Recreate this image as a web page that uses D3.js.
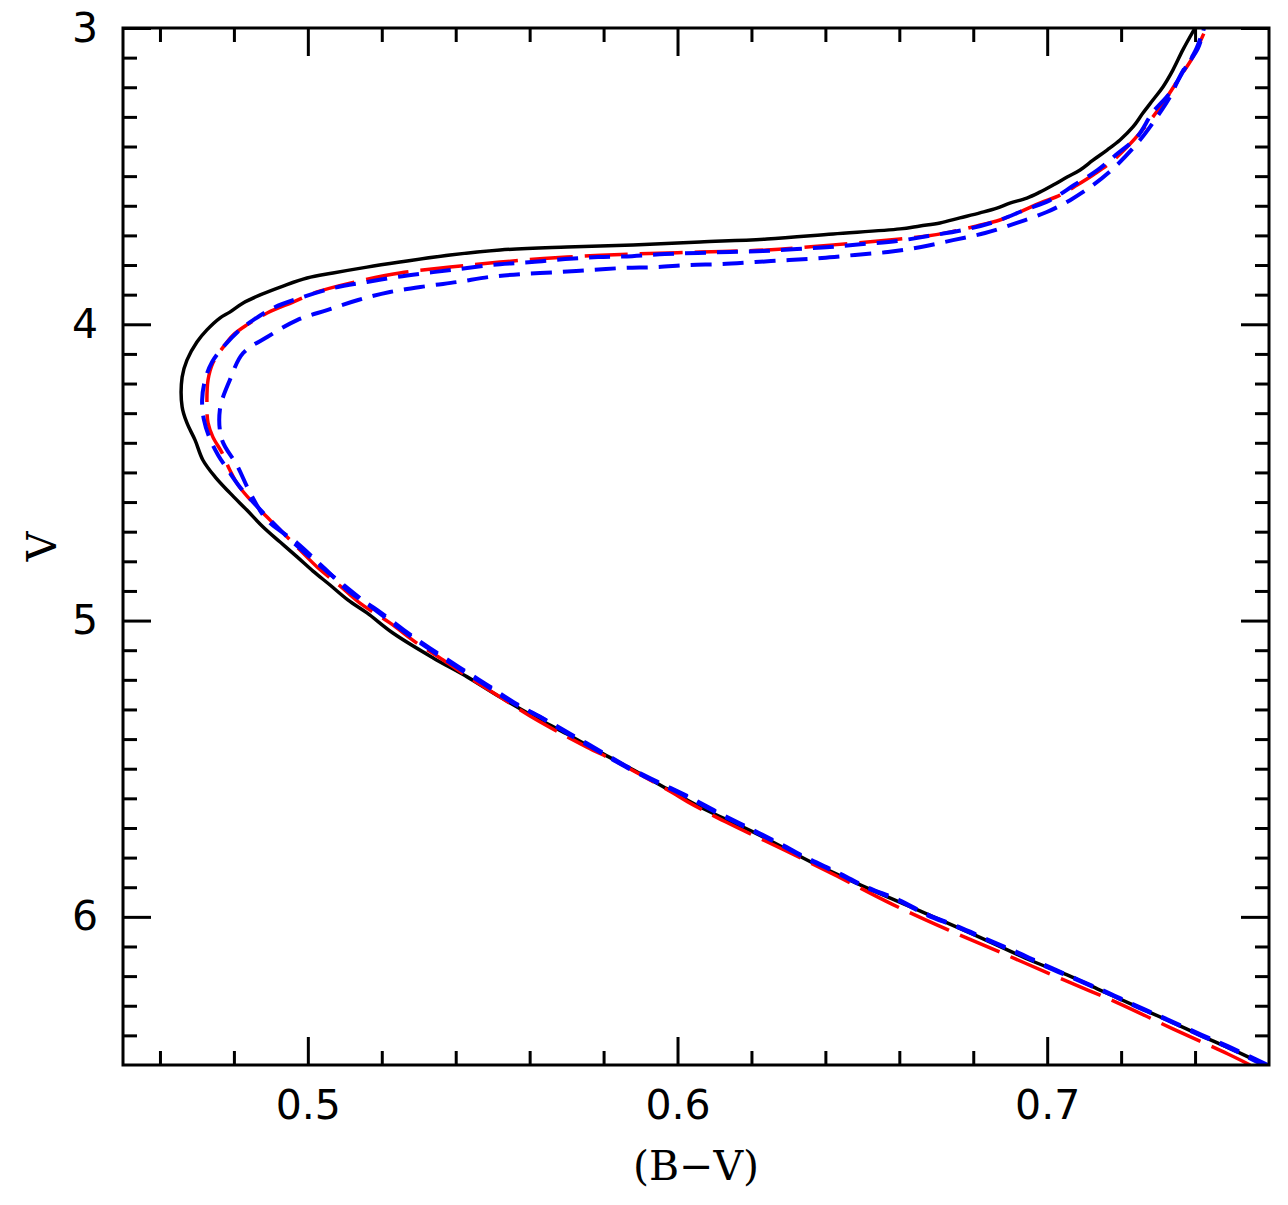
<!DOCTYPE html>
<html>
<head>
<meta charset="utf-8">
<script src="https://cdn.jsdelivr.net/npm/d3@7"></script>
<style>
  body { margin: 0; background: #fff; }
</style>
</head>
<body>
<svg width="1288" height="1205"></svg>
<script>
// isochrones, [B-V, V], bright (top) end first
var blackSolid = [
  [0.7400,3.000],[0.7367,3.074],[0.7340,3.142],[0.7313,3.199],[0.7286,3.243],[0.7259,3.287],
  [0.7232,3.334],[0.7197,3.378],[0.7162,3.412],[0.7124,3.446],[0.7089,3.479],[0.7054,3.503],
  [0.7016,3.530],[0.6980,3.554],[0.6945,3.574],[0.6899,3.591],[0.6864,3.608],[0.6818,3.624],
  [0.6764,3.641],[0.6710,3.658],[0.6656,3.668],[0.6602,3.678],[0.6421,3.695],[0.6242,3.712],
  [0.6061,3.722],[0.5880,3.732],[0.5701,3.739],[0.5520,3.749],[0.5385,3.766],[0.5249,3.790],
  [0.5160,3.807],[0.5068,3.827],[0.4998,3.844],[0.4933,3.871],[0.4871,3.901],[0.4825,3.928],
  [0.4789,3.959],[0.4762,3.979],[0.4727,4.019],[0.4700,4.060],[0.4673,4.121],[0.4660,4.178],
  [0.4660,4.279],[0.4673,4.333],[0.4695,4.391],[0.4716,4.458],[0.4749,4.515],[0.4789,4.569],
  [0.4835,4.627],[0.4879,4.684],[0.4925,4.735],[0.4971,4.785],[0.5014,4.833],[0.5060,4.880],
  [0.5109,4.931],[0.5160,4.974],[0.5230,5.042],[0.5339,5.126],[0.5431,5.190],[0.5520,5.258],
  [0.5609,5.322],[0.5701,5.383],[0.5790,5.444],[0.5880,5.504],[0.5972,5.568],[0.6061,5.629],
  [0.6215,5.720],[0.6366,5.818],[0.6494,5.892],[0.6637,5.970],[0.6791,6.054],[0.6959,6.149],
  [0.7054,6.196],[0.7143,6.247],[0.7232,6.297],[0.7324,6.348],[0.7413,6.399],[0.7503,6.449],
  [0.7589,6.500]
];

var redLongDash = [
  [0.7430,3.000],[0.7394,3.098],[0.7359,3.165],[0.7324,3.233],[0.7286,3.300],[0.7251,3.354],
  [0.7216,3.402],[0.7170,3.456],[0.7124,3.496],[0.7081,3.530],[0.7035,3.564],[0.6980,3.591],
  [0.6926,3.621],[0.6872,3.648],[0.6810,3.668],[0.6737,3.689],[0.6675,3.702],[0.6602,3.712],
  [0.6421,3.732],[0.6242,3.749],[0.6061,3.756],[0.5880,3.763],[0.5701,3.773],[0.5520,3.790],
  [0.5385,3.807],[0.5249,3.827],[0.5114,3.861],[0.5025,3.891],[0.4960,3.925],[0.4890,3.962],
  [0.4835,4.002],[0.4798,4.036],[0.4771,4.077],[0.4743,4.131],[0.4730,4.188],[0.4727,4.256],
  [0.4730,4.333],[0.4743,4.380],[0.4768,4.434],[0.4789,4.492],[0.4811,4.542],[0.4852,4.603],
  [0.4898,4.661],[0.4933,4.704],[0.4979,4.762],[0.5025,4.819],[0.5087,4.883],[0.5141,4.941],
  [0.5222,5.008],[0.5295,5.076],[0.5366,5.133],[0.5447,5.201],[0.5520,5.258],[0.5601,5.322],
  [0.5682,5.379],[0.5755,5.427],[0.5836,5.477],[0.5907,5.525],[0.5988,5.582],[0.6028,5.612],
  [0.6131,5.680],[0.6283,5.771],[0.6431,5.862],[0.6580,5.957],[0.6732,6.044],[0.6883,6.125],
  [0.7032,6.206],[0.7192,6.291],[0.7340,6.378],[0.7489,6.463],[0.7549,6.500]
];

var blueDashA = [
  [0.7424,3.000],[0.7402,3.074],[0.7370,3.142],[0.7332,3.219],[0.7286,3.284],[0.7243,3.368],
  [0.7192,3.422],[0.7137,3.479],[0.7073,3.530],[0.7008,3.581],[0.6940,3.614],[0.6856,3.655],
  [0.6772,3.682],[0.6678,3.702],[0.6594,3.719],[0.6502,3.729],[0.6412,3.739],[0.6323,3.746],
  [0.6231,3.753],[0.6142,3.756],[0.6055,3.759],[0.5966,3.763],[0.5877,3.770],[0.5785,3.773],
  [0.5696,3.780],[0.5606,3.790],[0.5520,3.797],[0.5431,3.810],[0.5339,3.824],[0.5241,3.840],
  [0.5160,3.857],[0.5068,3.878],[0.4979,3.911],[0.4906,3.945],[0.4852,3.986],[0.4816,4.019],
  [0.4771,4.077],[0.4741,4.127],[0.4722,4.188],[0.4714,4.256],[0.4719,4.323],[0.4733,4.380],
  [0.4757,4.441],[0.4784,4.492],[0.4816,4.549],[0.4852,4.600],[0.4890,4.650],[0.4933,4.704],
  [0.4979,4.757],[0.5025,4.806],[0.5073,4.856],[0.5114,4.897],[0.5182,4.964],[0.5255,5.032],
  [0.5325,5.093],[0.5403,5.157],[0.5479,5.217],[0.5555,5.278],[0.5633,5.329],[0.5709,5.386],
  [0.5790,5.444],[0.5866,5.498],[0.5947,5.548],[0.6026,5.595],[0.6107,5.649],[0.6188,5.700],
  [0.6269,5.751],[0.6345,5.801],[0.6426,5.849],[0.6507,5.899],[0.6594,5.943],[0.6675,5.994],
  [0.6756,6.034],[0.6837,6.078],[0.6918,6.122],[0.6999,6.169],[0.7081,6.213],[0.7162,6.257],
  [0.7243,6.304],[0.7324,6.348],[0.7413,6.399],[0.7494,6.443],[0.7581,6.497],[0.7597,6.503]
];

var blueDashB = [
  [0.7424,3.000],[0.7408,3.068],[0.7365,3.149],[0.7332,3.233],[0.7297,3.300],[0.7251,3.378],
  [0.7189,3.462],[0.7124,3.530],[0.7062,3.581],[0.6999,3.621],[0.6918,3.658],[0.6832,3.692],
  [0.6745,3.716],[0.6659,3.739],[0.6569,3.756],[0.6480,3.766],[0.6391,3.776],[0.6302,3.783],
  [0.6210,3.790],[0.6120,3.797],[0.6031,3.800],[0.5942,3.807],[0.5853,3.810],[0.5763,3.817],
  [0.5674,3.824],[0.5582,3.830],[0.5493,3.840],[0.5406,3.857],[0.5322,3.871],[0.5222,3.891],
  [0.5136,3.918],[0.5052,3.952],[0.4971,3.986],[0.4890,4.043],[0.4825,4.097],[0.4789,4.188],
  [0.4762,4.289],[0.4768,4.391],[0.4808,4.475],[0.4844,4.569],[0.4890,4.661],[0.4971,4.738],
  [0.5041,4.819],[0.5114,4.904],[0.5187,4.964],[0.5260,5.032],[0.5330,5.093],[0.5409,5.157],
  [0.5485,5.217],[0.5560,5.278],[0.5639,5.332],[0.5715,5.386],[0.5796,5.444],[0.5871,5.498],
  [0.5953,5.548],[0.6031,5.595],[0.6112,5.649],[0.6193,5.700],[0.6274,5.751],[0.6350,5.801],
  [0.6431,5.849],[0.6512,5.899],[0.6599,5.943],[0.6680,5.994],[0.6761,6.034],[0.6842,6.078],
  [0.6924,6.122],[0.7005,6.169],[0.7086,6.213],[0.7167,6.257],[0.7248,6.304],[0.7329,6.348],
  [0.7419,6.399],[0.7500,6.443],[0.7597,6.500]
];

// ticks
var xMajor = [0.5, 0.6, 0.7];
var xLabels = ["0.5", "0.6", "0.7"];
var yMajor = [3, 4, 5, 6];
var yLabels = ["3", "4", "5", "6"];

var svg = d3.select("svg"),
    marginLeft = 123, marginTop = 28,
    width = 1146, height = 1037;

var xScale = d3.scaleLinear().domain([0.45, 0.76]).range([0, width]);
var yScale = d3.scaleLinear().domain([3, 6.5]).range([0, height]);

var xMinor = d3.range(46, 76, 2).map(function(d){ return d / 100; })
    .filter(function(d){ return Math.round(d * 100) % 10 !== 0; });
var yMinor = d3.range(30, 65).map(function(d){ return d / 10; })
    .filter(function(d){ return Math.round(d * 10) % 10 !== 0; });

var g = svg.append("g").attr("transform", "translate(" + marginLeft + "," + marginTop + ")");

g.append("clipPath").attr("id", "clip")
  .append("rect").attr("width", width).attr("height", height);

// axes on all four sides, ticks pointing in
function addAxis(axis, tx, ty) {
  var a = g.append("g").attr("transform", "translate(" + tx + "," + ty + ")").call(axis);
  a.select(".domain").remove();
  a.selectAll(".tick line").attr("stroke", "#000").attr("stroke-width", 3);
  a.attr("font-family", "'DejaVu Sans', sans-serif").attr("font-size", 41);
  a.selectAll(".tick text").attr("fill", "#000");
  return a;
}
var noLabel = function(){ return ""; };

addAxis(d3.axisBottom(xScale).tickValues(xMajor).tickSize(-28).tickPadding(25)
  .tickFormat(function(d, i){ return xLabels[i]; }), 0, height);
addAxis(d3.axisBottom(xScale).tickValues(xMinor).tickSize(-14).tickFormat(noLabel), 0, height);
addAxis(d3.axisTop(xScale).tickValues(xMajor).tickSize(-28).tickFormat(noLabel), 0, 0);
addAxis(d3.axisTop(xScale).tickValues(xMinor).tickSize(-14).tickFormat(noLabel), 0, 0);

addAxis(d3.axisLeft(yScale).tickValues(yMajor).tickSize(-28).tickPadding(25)
  .tickFormat(function(d, i){ return yLabels[i]; }), 0, 0);
addAxis(d3.axisLeft(yScale).tickValues(yMinor).tickSize(-14).tickFormat(noLabel), 0, 0);
addAxis(d3.axisRight(yScale).tickValues(yMajor).tickSize(-28).tickFormat(noLabel), width, 0);
addAxis(d3.axisRight(yScale).tickValues(yMinor).tickSize(-14).tickFormat(noLabel), width, 0);

// curves - dashes start at the faint end, so reverse before drawing
var line = d3.line()
  .x(function(d){ return xScale(d[0]); })
  .y(function(d){ return yScale(d[1]); })
  .curve(d3.curveCatmullRom.alpha(0.5));

var curves = [
  { data: blackSolid,  color: "#000000", width: 3.5, dash: null },
  { data: redLongDash, color: "#ff0000", width: 3.5, dash: "43,12" },
  { data: blueDashB,   color: "#0000ff", width: 4,   dash: "21,11" },
  { data: blueDashA,   color: "#0000ff", width: 4,   dash: "21,11" }
];

var plot = g.append("g").attr("clip-path", "url(#clip)");
curves.forEach(function(c){
  plot.append("path")
    .datum(c.data.slice().reverse())
    .attr("d", line)
    .attr("fill", "none")
    .attr("stroke", c.color)
    .attr("stroke-width", c.width)
    .attr("stroke-dasharray", c.dash);
});

// frame
g.append("rect")
  .attr("width", width).attr("height", height)
  .attr("fill", "none").attr("stroke", "#000").attr("stroke-width", 3);

// axis titles
svg.append("text")
  .attr("x", marginLeft + width / 2).attr("y", 1180)
  .attr("text-anchor", "middle")
  .attr("font-family", "'DejaVu Serif', serif").attr("font-size", 41)
  .text("(B\u2212V)");

svg.append("text")
  .attr("transform", "translate(56," + (marginTop + height / 2) + ") rotate(-90)")
  .attr("text-anchor", "middle")
  .attr("font-family", "'DejaVu Serif', serif").attr("font-size", 41)
  .text("V");
</script>
</body>
</html>
